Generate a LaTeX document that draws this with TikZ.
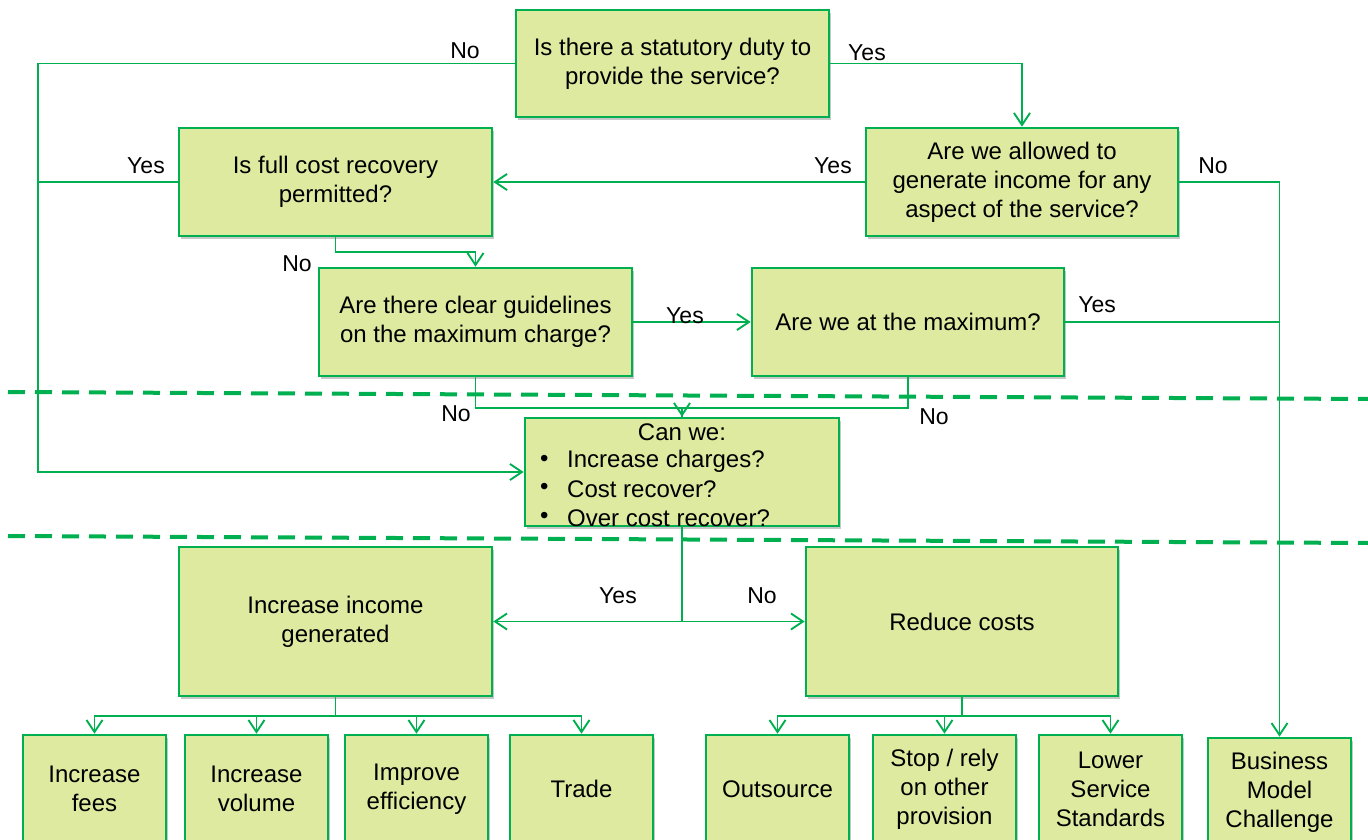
\documentclass[tikz,border=0pt]{standalone}
\usepackage{fontspec}
\setmainfont{Liberation Sans}
\usetikzlibrary{arrows.meta,shadows,calc}
\definecolor{pgreen}{RGB}{0,176,80}
\definecolor{pfill}{RGB}{222,234,160}
\begin{document}
\begin{tikzpicture}[x=1pt,y=-1pt,
 box/.style={draw=pgreen,line width=2.6pt,fill=pfill,inner sep=0pt,align=center,
   font=\fontsize{24}{29}\selectfont,
   drop shadow={shadow xshift=2pt,shadow yshift=-3pt,opacity=0.22,fill=black}},
 big/.style={box,minimum width=313pt,minimum height=108pt},
 small/.style={box,minimum width=143pt,minimum height=108pt},
 conn/.style={draw=pgreen,line width=1.9pt},
 arr/.style={conn,-{Straight Barb[length=12pt,width=16pt]}},
 lbl/.style={font=\fontsize{23}{27}\selectfont,inner sep=0pt},
 txt/.style={font=\fontsize{24}{29}\selectfont,inner sep=0pt},
 dline/.style={draw=pgreen,line width=4pt,dash pattern=on 17pt off 10pt}]
\useasboundingbox (0,0) rectangle (1368,840);
\fill[white] (0,0) rectangle (1368,840);

% dashed separators
\draw[dline] (8,392) -- (1368,399);
\draw[dline] (8,536) -- (1368,543);

% main boxes
\node[big,minimum height=107pt] (b1) at (672.5,63.5) {Is there a statutory duty to\\provide the service?};
\node[big] (b2) at (335.5,182) {Is full cost recovery\\permitted?};
\node[big,minimum width=312pt] (b3) at (1022,182) {Are we allowed to\\generate income for any\\aspect of the service?};
\node[big] (b4) at (475.5,322) {Are there clear guidelines\\on the maximum charge?};
\node[big,minimum width=312pt] (b5) at (908,322) {Are we at the maximum?};
\node[big,minimum width=314pt] (b6) at (682,472) {};
\node[txt] (cw) at (682,432) {Can we:};
\node[txt,anchor=west] (d1) at (540,461) {•};
\node[txt,anchor=west] (t1) at (567,461) {Increase charges?};
\node[txt,anchor=west] (d2) at (540,489) {•};
\node[txt,anchor=west] (t2) at (567,489) {Cost recover?};
\node[txt,anchor=west] (d3) at (540,518) {•};
\node[txt,anchor=west] (t3) at (567,518) {Over cost recover?};
\node[big,minimum height=149pt] (b7) at (335.5,621.5) {Increase income\\generated};
\node[big,minimum width=312pt,minimum height=149pt] (b8) at (962,621.5) {Reduce costs};

% bottom boxes
\node[small] (c1) at (94.5,789) {Increase\\fees};
\node[small] (c2) at (256.5,789) {Increase\\volume};
\node[small] (c3) at (416.5,789) {Improve\\efficiency};
\node[small] (c4) at (581.5,789) {Trade};
\node[small] (c5) at (777.5,789) {Outsource};
\node[small] (c6) at (944.5,789) {Stop / rely\\on other\\provision};
\node[small] (c7) at (1110.5,789) {Lower\\Service\\Standards};
\node[small] (c8) at (1279.5,792) {Business\\Model\\Challenge};

% connectors
\coordinate (L) at (38,0);
\draw[arr] (b1.west) -| (L |- b6.west) -- (b6.west);
\draw[conn] (b2.west) -- (L |- b2.west);
\draw[arr] (b1.east) -| (b3.north);
\draw[arr] (b3.west) -- (b2.east);
\draw[arr] (b3.east) -| (c8.north);
\draw[conn] (b5.east) -- (c8.north |- b5.east);
\draw[arr] (b2.south) -- ++(0,15) -| (b4.north);
\draw[arr] (b4.east) -- (b5.west);
\draw[arr] (b4.south) -- ++(0,31) -| (b6.north);
\draw[conn] (b5.south) -- ++(0,31) -| (b6.north);
\draw[arr] (b6.south) |- (b7.east);
\draw[arr] (b6.south) |- (b8.west);
\foreach \c in {c1,c2,c3,c4} \draw[arr] (b7.south) -- ++(0,19) -| (\c.north);
\foreach \c in {c5,c6,c7} \draw[arr] (b8.south) -- ++(0,19) -| (\c.north);

% labels
\node[lbl] (l1) at (465,51) {No};
\node[lbl] (l2) at (867,53) {Yes};
\node[lbl] (l3) at (146,166) {Yes};
\node[lbl] (l4) at (833,166) {Yes};
\node[lbl] (l5) at (1213,166) {No};
\node[lbl] (l6) at (297,264) {No};
\node[lbl] (l7) at (685,316) {Yes};
\node[lbl] (l8) at (1097,305) {Yes};
\node[lbl] (l9) at (456,414) {No};
\node[lbl] (l10) at (934,417) {No};
\node[lbl] (l11) at (618,596) {Yes};
\node[lbl] (l12) at (762,596) {No};
\end{tikzpicture}
\end{document}
